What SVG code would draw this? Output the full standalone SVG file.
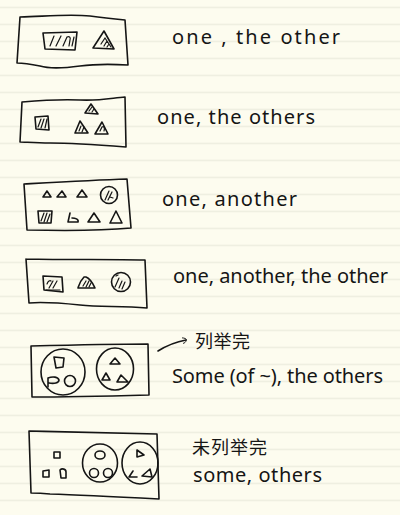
<svg xmlns="http://www.w3.org/2000/svg" width="400" height="515" viewBox="0 0 400 515">
<defs>
<pattern id="ruled" x="0" y="6.7" width="400" height="17" patternUnits="userSpaceOnUse">
<rect x="0" y="0" width="400" height="1.3" fill="#ecebdd"/>
</pattern>
<marker id="hand-arrow" viewBox="0 0 10 10" refX="7" refY="5" markerWidth="7" markerHeight="7" orient="auto" markerUnits="userSpaceOnUse">
<path d="M2,1 C6,2 9,4 7,6 C6,8 4,9 2,9" fill="none" stroke="#151515" stroke-width="1.3"/>
</marker>
<style>
.ink{fill:none;stroke:#151515;stroke-width:1.6;stroke-linecap:round;stroke-linejoin:round}
.hatch{fill:none;stroke:#151515;stroke-width:1.2;stroke-linecap:round}
.lbl{font-family:"Noto Sans","Liberation Sans",sans-serif;font-size:20px;fill:#151515}
.cjk{font-family:"Noto Sans CJK SC","Noto Sans",sans-serif;font-size:18px;fill:#151515}
</style>
</defs>
<rect width="400" height="515" fill="#fdfcef"/>
<rect width="400" height="515" fill="url(#ruled)"/>

<g id="node-one-the-other">
<path class="ink" d="M20,17 C50,16 70,14 90,16 C105,18 115,19 125,20 L128,65 C110,64 95,64 80,66 C65,68 50,69 40,66 C30,64 22,63 17,63 L20,17"/>
<path class="ink" d="M43,33 L77,32 L75,50 L45,49 Z"/>
<path class="hatch" d="M50,46 L54,36 M56,46 L61,36 M63,46 L67,37 C69,36 71,37 70,40 L69,46 M72,46 L74,37"/>
<path class="ink" d="M104,31 L93,48 L114,49 Z"/>
<path class="hatch" d="M101,44 L105,38 L111,47 M104,46 L107,41 M107,47 L109,44"/>
<text class="lbl" x="172" y="44" textLength="168" lengthAdjust="spacing">one , the other</text>
</g>

<g id="node-one-the-others">
<path class="ink" d="M22,102 C45,100 60,99 80,100 C100,101 112,98 125,97 L126,147 C100,145 70,143 50,143 C35,143 25,142 20,142 L22,102"/>
<path class="ink" d="M35,117 L48,116 L49,130 L36,129 Z"/>
<path class="hatch" d="M38,127 L41,119 M41,128 L44,119 M45,128 L47,119"/>
<path class="ink" d="M91,104 L85,113 L98,114 Z"/>
<path class="hatch" d="M89,111 L92,107 M92,112 L94,109"/>
<path class="ink" d="M80,121 L75,133 L88,133 Z"/>
<path class="hatch" d="M79,131 L81,126 M82,132 L84,127"/>
<path class="ink" d="M102,122 L95,134 L108,134 Z"/>
<path class="hatch" d="M100,131 L102,127 C104,126 105,128 104,131"/>
<text class="lbl" x="157" y="124" textLength="158" lengthAdjust="spacing">one, the others</text>
</g>

<g id="node-one-another">
<path class="ink" d="M24,184 C60,182 95,180 127,179 L131,228 C110,230 70,231 27,230 L24,184"/>
<path class="ink" d="M47,191 L43,197 L51,197 Z"/>
<path class="ink" d="M62,191 L57,197 L66,197 Z"/>
<path class="ink" d="M82,190 L77,197 L87,197 Z"/>
<circle class="ink" cx="109" cy="195" r="8.5"/>
<path class="hatch" d="M105,200 L109,191 M108,200 L112,192 M110,197 L113,198"/>
<path class="ink" d="M38,211 L52,211 L51,223 L39,223 Z"/>
<path class="hatch" d="M41,221 L44,213 M44,222 L47,213 M47,222 L50,214"/>
<path class="ink" d="M70,213 L68,222 L78,222 C79,219 75,218 72,218"/>
<path class="ink" d="M94,213 L88,222 L100,222 Z"/>
<path class="ink" d="M116,211 L110,223 L122,223 Z"/>
<text class="lbl" x="162" y="206" textLength="135" lengthAdjust="spacing">one, another</text>
</g>

<g id="node-one-another-the-other">
<path class="ink" d="M26,259 C70,260 110,259 145,260 L147,308 C120,306 100,307 80,305 C60,303 40,302 29,303 L26,259"/>
<path class="ink" d="M43,276 L62,277 L63,292 L44,290 Z"/>
<path class="hatch" d="M47,284 C48,281 50,280 51,281 M49,288 L53,281 M53,288 L57,281 M46,290 L60,290"/>
<path class="ink" d="M84,277 C80,281 79,285 78,288 L95,288 C93,284 91,279 86,277 Z"/>
<path class="hatch" d="M83,286 L86,281 M86,287 L89,281 M89,287 L91,283"/>
<circle class="ink" cx="121" cy="282" r="9.5"/>
<path class="hatch" d="M115,287 L119,278 M119,288 L122,281 M122,289 L125,282 M116,276 L118,275"/>
<text class="lbl" x="173" y="283" textLength="215" lengthAdjust="spacing">one, another, the other</text>
</g>

<g id="node-some-the-others">
<path class="ink" d="M31,346 C70,345 110,344 148,344 L149,395 C110,396 70,397 32,397 L31,346"/>
<ellipse class="ink" cx="63" cy="372" rx="22" ry="23"/>
<path class="ink" d="M54,357 L64,358 L63,367 L56,368 Z"/>
<path class="ink" d="M48,387 L48,378 C53,376 58,377 59,380 C59,383 54,384 49,383"/>
<circle class="ink" cx="70" cy="381" r="5.5"/>
<ellipse class="ink" cx="115" cy="369" rx="18.5" ry="21"/>
<path class="ink" d="M115,358 L110,364 L120,364 Z"/>
<path class="ink" d="M106,373 L102,380 L110,380 Z"/>
<path class="ink" d="M121,375 L117,382 L128,382 Z"/>
<text class="cjk" x="195" y="348" textLength="55" lengthAdjust="spacing">列举完</text>
<text class="lbl" x="172" y="383" textLength="211" lengthAdjust="spacing">Some (of ~), the others</text>
</g>

<g id="node-some-others">
<path class="ink" d="M29,431 C70,432 110,433 157,434 L159,499 C120,497 80,495 50,494 C40,493 35,493 31,493 L29,431"/>
<path class="ink" d="M54,452 L60,452 L60,458 L54,458 Z"/>
<path class="ink" d="M43,471 L49,470 L49,477 L43,477 Z"/>
<path class="ink" d="M60,470 C62,468 66,469 66,472 L66,478 L61,478 Z"/>
<ellipse class="ink" cx="100" cy="463" rx="17.5" ry="19"/>
<ellipse class="ink" cx="100" cy="455" rx="5" ry="4"/>
<circle class="ink" cx="94" cy="473" r="4.5"/>
<circle class="ink" cx="108" cy="473" r="4.5"/>
<ellipse class="ink" cx="140" cy="463" rx="18" ry="21"/>
<path class="ink" d="M137,450 L137,457 L144,455 Z"/>
<path class="ink" d="M133,471 L129,477 L137,477"/>
<path class="ink" d="M150,469 L142,476 L152,477 Z"/>
<text class="cjk" x="192" y="454" textLength="75" lengthAdjust="spacing">未列举完</text>
<text class="lbl" x="193" y="482" textLength="129" lengthAdjust="spacing">some, others</text>
</g>

<g id="connectors">
<path class="ink" d="M158,351 C166,346 175,342 186,340" marker-end="url(#hand-arrow)"/>
</g>
</svg>
